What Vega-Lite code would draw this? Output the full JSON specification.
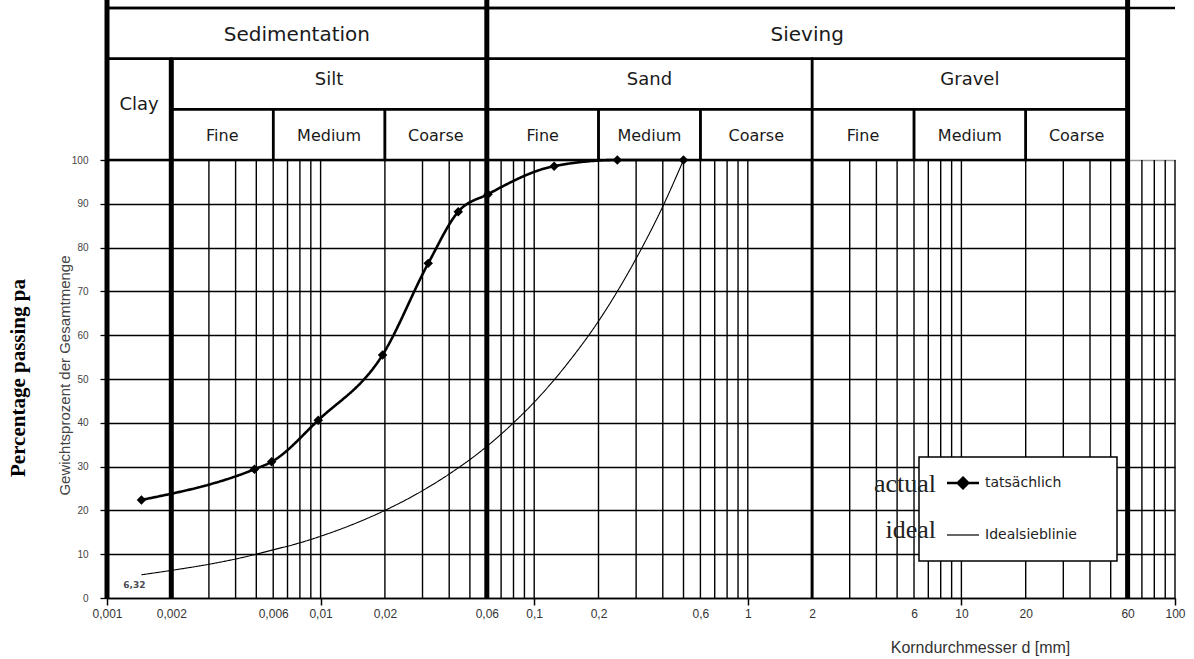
{
  "$schema": "https://vega.github.io/schema/vega-lite/v6.json",
  "width": 1068,
  "height": 598,
  "autosize": {"type": "none"},
  "padding": {"left": 107, "top": 0, "right": 19, "bottom": 61},
  "background": "white",
  "config": {"view": {"stroke": null}},
  "title": {
    "text": "Percentage passing pa",
    "orient": "left",
    "anchor": "middle",
    "frame": "group",
    "font": "Liberation Serif",
    "fontSize": 21,
    "fontWeight": "bold",
    "color": "black",
    "offset": 28,
    "dx": -79
  },
  "datasets": {
    "grid": [
      {"d": 0.003}, {"d": 0.004}, {"d": 0.005}, {"d": 0.006}, {"d": 0.007}, {"d": 0.008}, {"d": 0.009},
      {"d": 0.01}, {"d": 0.02}, {"d": 0.03}, {"d": 0.04}, {"d": 0.05}, {"d": 0.07}, {"d": 0.08}, {"d": 0.09},
      {"d": 0.1}, {"d": 0.2}, {"d": 0.3}, {"d": 0.4}, {"d": 0.5}, {"d": 0.6}, {"d": 0.7}, {"d": 0.8}, {"d": 0.9},
      {"d": 1}, {"d": 3}, {"d": 4}, {"d": 5}, {"d": 6}, {"d": 7}, {"d": 8}, {"d": 9},
      {"d": 10}, {"d": 20}, {"d": 30}, {"d": 40}, {"d": 50}, {"d": 70}, {"d": 80}, {"d": 90}, {"d": 100}
    ],
    "sectionLines": [{"d": 0.002}, {"d": 2}],
    "frameLines": [{"d": 0.001}, {"d": 0.06}, {"d": 60}],
    "curves": [
      {"series": "tatsächlich", "en": "actual", "d": 0.00145, "p": 22.4},
      {"series": "tatsächlich", "en": "actual", "d": 0.0049, "p": 29.4},
      {"series": "tatsächlich", "en": "actual", "d": 0.0059, "p": 31.1},
      {"series": "tatsächlich", "en": "actual", "d": 0.00975, "p": 40.6},
      {"series": "tatsächlich", "en": "actual", "d": 0.0195, "p": 55.5},
      {"series": "tatsächlich", "en": "actual", "d": 0.0319, "p": 76.4},
      {"series": "tatsächlich", "en": "actual", "d": 0.0441, "p": 88.2},
      {"series": "tatsächlich", "en": "actual", "d": 0.0608, "p": 92.2},
      {"series": "tatsächlich", "en": "actual", "d": 0.124, "p": 98.6},
      {"series": "tatsächlich", "en": "actual", "d": 0.245, "p": 100},
      {"series": "tatsächlich", "en": "actual", "d": 0.5, "p": 100},
      {"series": "Idealsieblinie", "en": "ideal", "d": 0.00145, "p": 5.3, "label": "6,32"},
      {"series": "Idealsieblinie", "en": "ideal", "d": 0.002, "p": 6.3},
      {"series": "Idealsieblinie", "en": "ideal", "d": 0.003, "p": 7.7},
      {"series": "Idealsieblinie", "en": "ideal", "d": 0.004, "p": 8.9},
      {"series": "Idealsieblinie", "en": "ideal", "d": 0.005, "p": 10},
      {"series": "Idealsieblinie", "en": "ideal", "d": 0.006, "p": 11},
      {"series": "Idealsieblinie", "en": "ideal", "d": 0.008, "p": 12.6},
      {"series": "Idealsieblinie", "en": "ideal", "d": 0.01, "p": 14.1},
      {"series": "Idealsieblinie", "en": "ideal", "d": 0.015, "p": 17.3},
      {"series": "Idealsieblinie", "en": "ideal", "d": 0.02, "p": 20},
      {"series": "Idealsieblinie", "en": "ideal", "d": 0.03, "p": 24.5},
      {"series": "Idealsieblinie", "en": "ideal", "d": 0.04, "p": 28.3},
      {"series": "Idealsieblinie", "en": "ideal", "d": 0.06, "p": 34.6},
      {"series": "Idealsieblinie", "en": "ideal", "d": 0.08, "p": 40},
      {"series": "Idealsieblinie", "en": "ideal", "d": 0.1, "p": 44.7},
      {"series": "Idealsieblinie", "en": "ideal", "d": 0.15, "p": 54.8},
      {"series": "Idealsieblinie", "en": "ideal", "d": 0.2, "p": 63.2},
      {"series": "Idealsieblinie", "en": "ideal", "d": 0.3, "p": 77.5},
      {"series": "Idealsieblinie", "en": "ideal", "d": 0.4, "p": 89.4},
      {"series": "Idealsieblinie", "en": "ideal", "d": 0.5, "p": 100}
    ],
    "classes": [
      {"label": "Sedimentation", "lo": 0.001, "hi": 0.06, "top": 0, "bottom": 1},
      {"label": "Sieving", "lo": 0.06, "hi": 60, "top": 0, "bottom": 1},
      {"label": "Clay", "lo": 0.001, "hi": 0.002, "top": 1, "bottom": 3},
      {"label": "Silt", "lo": 0.002, "hi": 0.06, "top": 1, "bottom": 2},
      {"label": "Sand", "lo": 0.06, "hi": 2, "top": 1, "bottom": 2},
      {"label": "Gravel", "lo": 2, "hi": 60, "top": 1, "bottom": 2},
      {"label": "Fine", "lo": 0.002, "hi": 0.006, "top": 2, "bottom": 3},
      {"label": "Medium", "lo": 0.006, "hi": 0.02, "top": 2, "bottom": 3},
      {"label": "Coarse", "lo": 0.02, "hi": 0.06, "top": 2, "bottom": 3},
      {"label": "Fine", "lo": 0.06, "hi": 0.2, "top": 2, "bottom": 3},
      {"label": "Medium", "lo": 0.2, "hi": 0.6, "top": 2, "bottom": 3},
      {"label": "Coarse", "lo": 0.6, "hi": 2, "top": 2, "bottom": 3},
      {"label": "Fine", "lo": 2, "hi": 6, "top": 2, "bottom": 3},
      {"label": "Medium", "lo": 6, "hi": 20, "top": 2, "bottom": 3},
      {"label": "Coarse", "lo": 20, "hi": 60, "top": 2, "bottom": 3}
    ]
  },
  "layer": [
    {
      "layer": [
        {
          "data": {"name": "grid"},
          "mark": {"type": "rule", "color": "black", "strokeWidth": 1.4},
          "encoding": {
            "x": {
              "field": "d", "type": "quantitative",
              "scale": {"type": "log", "domain": [0.001, 100], "nice": false},
              "axis": {
                "values": [0.001, 0.002, 0.006, 0.01, 0.02, 0.06, 0.1, 0.2, 0.6, 1, 2, 6, 10, 20, 60, 100],
                "labelExpr": "replace(format(datum.value, '~g'), '.', ',')",
                "grid": false,
                "domainColor": "black",
                "domainWidth": 1.5,
                "tickColor": "black",
                "tickWidth": 1.5,
                "tickSize": 7,
                "tickOpacity": {"condition": {"test": "abs(log(datum.value)/LN10 - round(log(datum.value)/LN10)) < 0.001", "value": 1}, "value": 0},
                "labelFont": "Liberation Sans",
                "labelFontSize": 12,
                "labelColor": "#333",
                "labelPadding": 3,
                "labelBaseline": "top",
                "labelFlush": false,
                "labelOverlap": false,
                "encode": {"labels": {"update": {"dy": {"signal": "abs(log(datum.value)/LN10 - round(log(datum.value)/LN10)) < 0.001 ? 5 : 0"}}}},
                "title": "Korndurchmesser d [mm]",
                "titleFont": "Liberation Sans",
                "titleFontSize": 16,
                "titleFontWeight": "normal",
                "titleColor": "#333",
                "titleX": 873,
                "titleY": 49,
                "titleBaseline": "middle"
              }
            },
            "y": {
              "datum": 0, "type": "quantitative",
              "scale": {"domain": [0, 136.53], "nice": false, "zero": false},
              "axis": {
                "values": [0, 10, 20, 30, 40, 50, 60, 70, 80, 90, 100],
                "grid": true,
                "gridColor": {"condition": {"test": "datum.value === 100", "value": "#9a9a9a"}, "value": "black"},
                "gridWidth": 1.4,
                "domain": false,
                "tickColor": "black",
                "tickWidth": 1.3,
                "tickSize": 7,
                "labelFont": "Liberation Sans",
                "labelFontSize": 10,
                "labelColor": "#444",
                "labelPadding": 12,
                "labelFlush": false,
                "title": "Gewichtsprozent der Gesamtmenge",
                "titleFont": "Liberation Sans",
                "titleFontSize": 15,
                "titleFontWeight": "normal",
                "titleColor": "#444",
                "titleX": -35,
                "titleY": 375
              }
            },
            "y2": {"datum": 100}
          }
        },
        {
          "data": {"name": "sectionLines"},
          "mark": {"type": "rule", "color": "black"},
          "encoding": {
            "x": {"field": "d", "type": "quantitative", "scale": {"type": "log", "domain": [0.001, 100], "nice": false}},
            "y": {"datum": 0, "type": "quantitative", "scale": {"domain": [0, 136.53], "nice": false, "zero": false}},
            "y2": {"datum": 100},
            "strokeWidth": {"condition": {"test": "datum.d < 1", "value": 5}, "value": 3}
          }
        },
        {
          "data": {"name": "curves"},
          "transform": [{"filter": "datum.series === 'Idealsieblinie'"}],
          "mark": {"type": "line", "strokeWidth": 1.1, "interpolate": "monotone"},
          "encoding": {
            "x": {"field": "d", "type": "quantitative", "scale": {"type": "log", "domain": [0.001, 100], "nice": false}},
            "y": {"field": "p", "type": "quantitative", "scale": {"domain": [0, 136.53], "nice": false, "zero": false}},
            "color": {
              "field": "series", "type": "nominal",
              "scale": {"domain": ["tatsächlich", "Idealsieblinie"], "range": ["black", "black"]},
              "legend": {
                "title": null,
                "orient": "none",
                "legendX": 812,
                "legendY": 457,
                "padding": 19,
                "symbolOffset": 18,
                "symbolSize": 1024,
                "rowPadding": 34,
                "labelOffset": 15,
                "labelFont": "DejaVu Sans",
                "labelFontSize": 14,
                "labelColor": "#222",
                "labelLimit": 300,
                "labelExpr": "datum.label + '\u2800\u2800'",
                "strokeColor": "black",
                "fillColor": "white",
                "zindex": 1,
                "encode": {
                  "legend": {"update": {"strokeWidth": {"value": 1.5}}},
                  "symbols": {
                    "update": {
                      "shape": {"signal": "datum.value === 'tatsächlich' ? 'M-1,0L1,0M0,-0.33L0.33,0L0,0.33L-0.33,0Z' : 'M-1,0L1,0'"},
                      "fill": {"signal": "datum.value === 'tatsächlich' ? 'black' : 'transparent'"},
                      "stroke": {"value": "black"},
                      "strokeWidth": {"signal": "datum.value === 'tatsächlich' ? 2.5 : 1.2"},
                      "opacity": {"value": 1}
                    }
                  }
                }
              }
            },
            "strokeDash": {
              "field": "en", "type": "nominal",
              "scale": {"domain": ["actual", "ideal"], "range": [[1, 0], [1, 0]]},
              "legend": {
                "title": null,
                "orient": "none",
                "legendX": 803,
                "legendY": 471,
                "padding": 0,
                "symbolOpacity": 0,
                "symbolSize": 1,
                "symbolOffset": 0,
                "labelOffset": 0,
                "labelAlign": "right",
                "rowPadding": 20,
                "labelFont": "Liberation Serif",
                "labelFontSize": 26,
                "labelColor": "#222",
                "zindex": 2
              }
            }
          }
        },
        {
          "data": {"name": "curves"},
          "transform": [{"filter": "datum.series === 'tatsächlich'"}],
          "mark": {"type": "line", "strokeWidth": 2.6, "interpolate": "monotone"},
          "encoding": {
            "x": {"field": "d", "type": "quantitative", "scale": {"type": "log", "domain": [0.001, 100], "nice": false}},
            "y": {"field": "p", "type": "quantitative", "scale": {"domain": [0, 136.53], "nice": false, "zero": false}},
            "color": {"field": "series", "type": "nominal"},
            "strokeDash": {"field": "en", "type": "nominal"}
          }
        },
        {
          "data": {"name": "curves"},
          "transform": [{"filter": "datum.series === 'tatsächlich'"}],
          "mark": {"type": "point", "shape": "diamond", "filled": true, "color": "black", "size": 90, "opacity": 1},
          "encoding": {
            "x": {"field": "d", "type": "quantitative", "scale": {"type": "log", "domain": [0.001, 100], "nice": false}},
            "y": {"field": "p", "type": "quantitative", "scale": {"domain": [0, 136.53], "nice": false, "zero": false}}
          }
        },
        {
          "data": {"name": "curves"},
          "transform": [{"filter": "isValid(datum.label)"}],
          "mark": {"type": "text", "dx": -7, "dy": 10, "font": "DejaVu Sans", "fontSize": 9, "fontWeight": "bold", "color": "#4a4a55"},
          "encoding": {
            "x": {"field": "d", "type": "quantitative", "scale": {"type": "log", "domain": [0.001, 100], "nice": false}},
            "y": {"field": "p", "type": "quantitative", "scale": {"domain": [0, 136.53], "nice": false, "zero": false}},
            "text": {"field": "label"}
          }
        }
      ]
    },
    {
      "layer": [
        {
          "data": {"name": "classes"},
          "mark": {"type": "rect", "filled": false, "stroke": "black", "strokeWidth": 2.5},
          "encoding": {
            "x": {"field": "lo", "type": "quantitative", "scale": {"type": "log", "domain": [0.001, 100], "nice": false}},
            "x2": {"field": "hi"},
            "y": {"field": "top", "type": "quantitative", "scale": {"domain": [-0.158, 11.644], "reverse": true, "nice": false, "zero": false}, "axis": null},
            "y2": {"field": "bottom"}
          }
        },
        {
          "data": {"name": "classes"},
          "transform": [
            {"filter": "datum.top === 0"},
            {"calculate": "sqrt(datum.lo * datum.hi)", "as": "xm"},
            {"calculate": "(datum.top + datum.bottom) / 2", "as": "ym"}
          ],
          "mark": {"type": "text", "font": "DejaVu Sans", "fontSize": 20, "color": "#1a1a1a", "baseline": "middle", "align": "center", "dy": 2},
          "encoding": {
            "x": {"field": "xm", "type": "quantitative", "scale": {"type": "log", "domain": [0.001, 100], "nice": false}},
            "y": {"field": "ym", "type": "quantitative", "scale": {"domain": [-0.158, 11.644], "reverse": true, "nice": false, "zero": false}, "axis": null},
            "text": {"field": "label"}
          }
        },
        {
          "data": {"name": "classes"},
          "transform": [
            {"filter": "datum.top === 1"},
            {"calculate": "sqrt(datum.lo * datum.hi)", "as": "xm"},
            {"calculate": "(datum.top + datum.bottom) / 2", "as": "ym"}
          ],
          "mark": {"type": "text", "font": "DejaVu Sans", "fontSize": 18, "color": "#1a1a1a", "baseline": "middle", "align": "center", "dy": -4},
          "encoding": {
            "x": {"field": "xm", "type": "quantitative", "scale": {"type": "log", "domain": [0.001, 100], "nice": false}},
            "y": {"field": "ym", "type": "quantitative", "scale": {"domain": [-0.158, 11.644], "reverse": true, "nice": false, "zero": false}, "axis": null},
            "text": {"field": "label"}
          }
        },
        {
          "data": {"name": "classes"},
          "transform": [
            {"filter": "datum.top === 2"},
            {"calculate": "sqrt(datum.lo * datum.hi)", "as": "xm"},
            {"calculate": "(datum.top + datum.bottom) / 2", "as": "ym"}
          ],
          "mark": {"type": "text", "font": "DejaVu Sans", "fontSize": 16, "color": "#1a1a1a", "baseline": "middle", "align": "center", "dy": 1},
          "encoding": {
            "x": {"field": "xm", "type": "quantitative", "scale": {"type": "log", "domain": [0.001, 100], "nice": false}},
            "y": {"field": "ym", "type": "quantitative", "scale": {"domain": [-0.158, 11.644], "reverse": true, "nice": false, "zero": false}, "axis": null},
            "text": {"field": "label"}
          }
        },
        {
          "data": {"name": "sectionLines"},
          "transform": [{"filter": "datum.d < 1"}],
          "mark": {"type": "rule", "color": "black", "strokeWidth": 5},
          "encoding": {
            "x": {"field": "d", "type": "quantitative", "scale": {"type": "log", "domain": [0.001, 100], "nice": false}},
            "y": {"datum": 1, "type": "quantitative", "scale": {"domain": [-0.158, 11.644], "reverse": true, "nice": false, "zero": false}, "axis": null},
            "y2": {"datum": 3}
          }
        },
        {
          "data": {"values": [{}]},
          "mark": {"type": "rule", "color": "black", "strokeWidth": 2.5},
          "encoding": {
            "x": {"datum": 0.001, "type": "quantitative", "scale": {"type": "log", "domain": [0.001, 100], "nice": false}},
            "x2": {"datum": 100},
            "y": {"datum": 0, "type": "quantitative", "scale": {"domain": [-0.158, 11.644], "reverse": true, "nice": false, "zero": false}, "axis": null}
          }
        },
        {
          "data": {"name": "frameLines"},
          "mark": {"type": "rule", "color": "black", "strokeWidth": 5},
          "encoding": {
            "x": {"field": "d", "type": "quantitative", "scale": {"type": "log", "domain": [0.001, 100], "nice": false}}
          }
        }
      ]
    }
  ],
  "resolve": {"scale": {"y": "independent"}}
}
